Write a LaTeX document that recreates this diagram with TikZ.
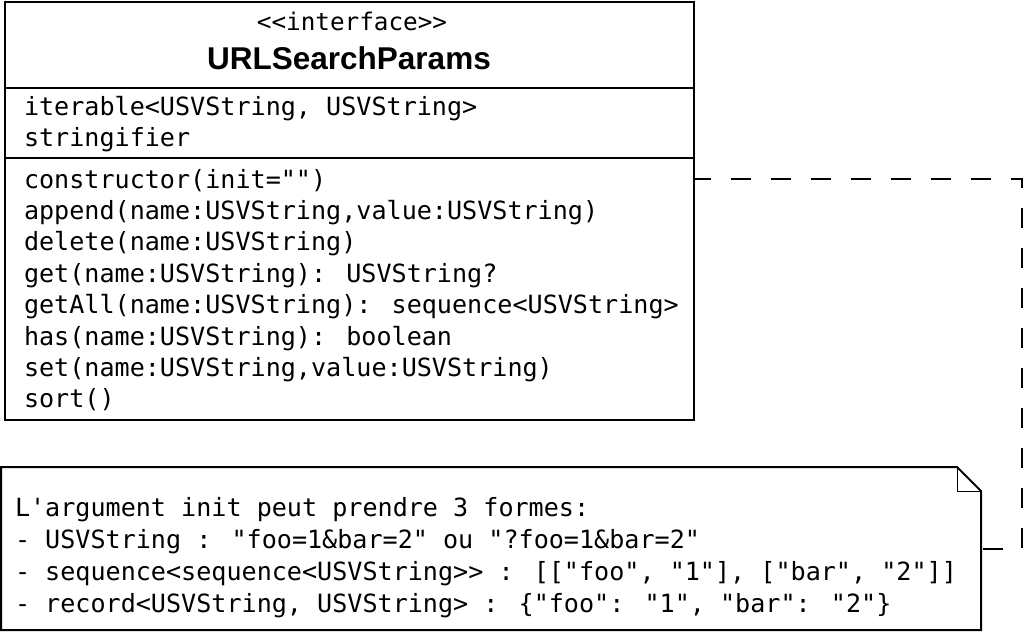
\documentclass[tikz,border=0pt]{standalone}
\usepackage{fontspec}
\newfontfamily\monof{DejaVu Sans Mono}[Ligatures=TeXOff]
\newfontfamily\titlef{Liberation Sans}[Ligatures=TeXOff]
\begin{document}
\begin{tikzpicture}[x=1pt,y=-1pt,line width=2pt,line join=miter,
  mono/.style={font=\monof\fontsize{25.1}{30}\selectfont,anchor=base west,inner sep=0pt},
  notetext/.style={font=\monof\fontsize{25.1}{30}\selectfont,anchor=base west,inner sep=0pt},
  stereo/.style={font=\monof\fontsize{24.3}{30}\selectfont,anchor=base,inner sep=0pt},
  titletext/.style={font=\titlef\bfseries\fontsize{31.5}{36}\selectfont,anchor=base,inner sep=0pt},
  classbox/.style={draw,line width=2pt,inner sep=0pt,anchor=north west,minimum width=689pt,minimum height=418pt},
  conn/.style={line width=2pt,dash pattern=on 20pt off 20pt,dash phase=4pt}]
\fill[white] (0,0) rectangle (1024,632);
\useasboundingbox (0,0) rectangle (1024,632);
% class box
\node[classbox] (cls) at (4,1) {};
\draw (cls.west |- 0,88) -- (cls.east |- 0,88);
\draw (cls.west |- 0,158) -- (cls.east |- 0,158);
\node[stereo] (st) at (352,30) {<<interface>>};
\node[titletext] (title) at (349,69) {URLSearchParams};
\node[mono] (a1) at (23,115) {iterable<USVString, USVString>};
\node[mono] (a2) at (23,146) {stringifier};
\node[mono] (m1) at (23,188) {constructor(init="")};
\node[mono] (m2) at (23,219.4) {append(name:USVString,value:USVString)};
\node[mono] (m3) at (23,250.8) {delete(name:USVString)};
\node[mono] (m4) at (23,282.2) {get(name:USVString): USVString?};
\node[mono] (m5) at (23,313.6) {getAll(name:USVString): sequence<USVString>};
\node[mono] (m6) at (23,345) {has(name:USVString): boolean};
\node[mono] (m7) at (23,376.4) {set(name:USVString,value:USVString)};
\node[mono] (m8) at (23,407.8) {sort()};
% note
\draw (1,467) -- (957,467) -- (981,491) -- (981,630) -- (1,630) -- cycle;
\draw[line width=1pt] (957,467) -- (957,491) -- (981,491);
\coordinate (noteR) at (981,549);
\node[notetext] (n1) at (14,516) {L'argument init peut prendre 3 formes:};
\node[notetext] (n2) at (14,548) {- USVString : "foo=1\&bar=2" ou "?foo=1\&bar=2"};
\node[notetext] (n3) at (14,580) {- sequence<sequence<USVString>> : [["foo", "1"], ["bar", "2"]]};
\node[notetext] (n4) at (14,612) {- record<USVString, USVString> : \{"foo": "1", "bar": "2"\}};
% connector
\coordinate (bend) at (1022,179);
\draw[conn] (cls.east |- bend) -- (bend) -- (bend |- noteR) -- (noteR);
\end{tikzpicture}
\end{document}
